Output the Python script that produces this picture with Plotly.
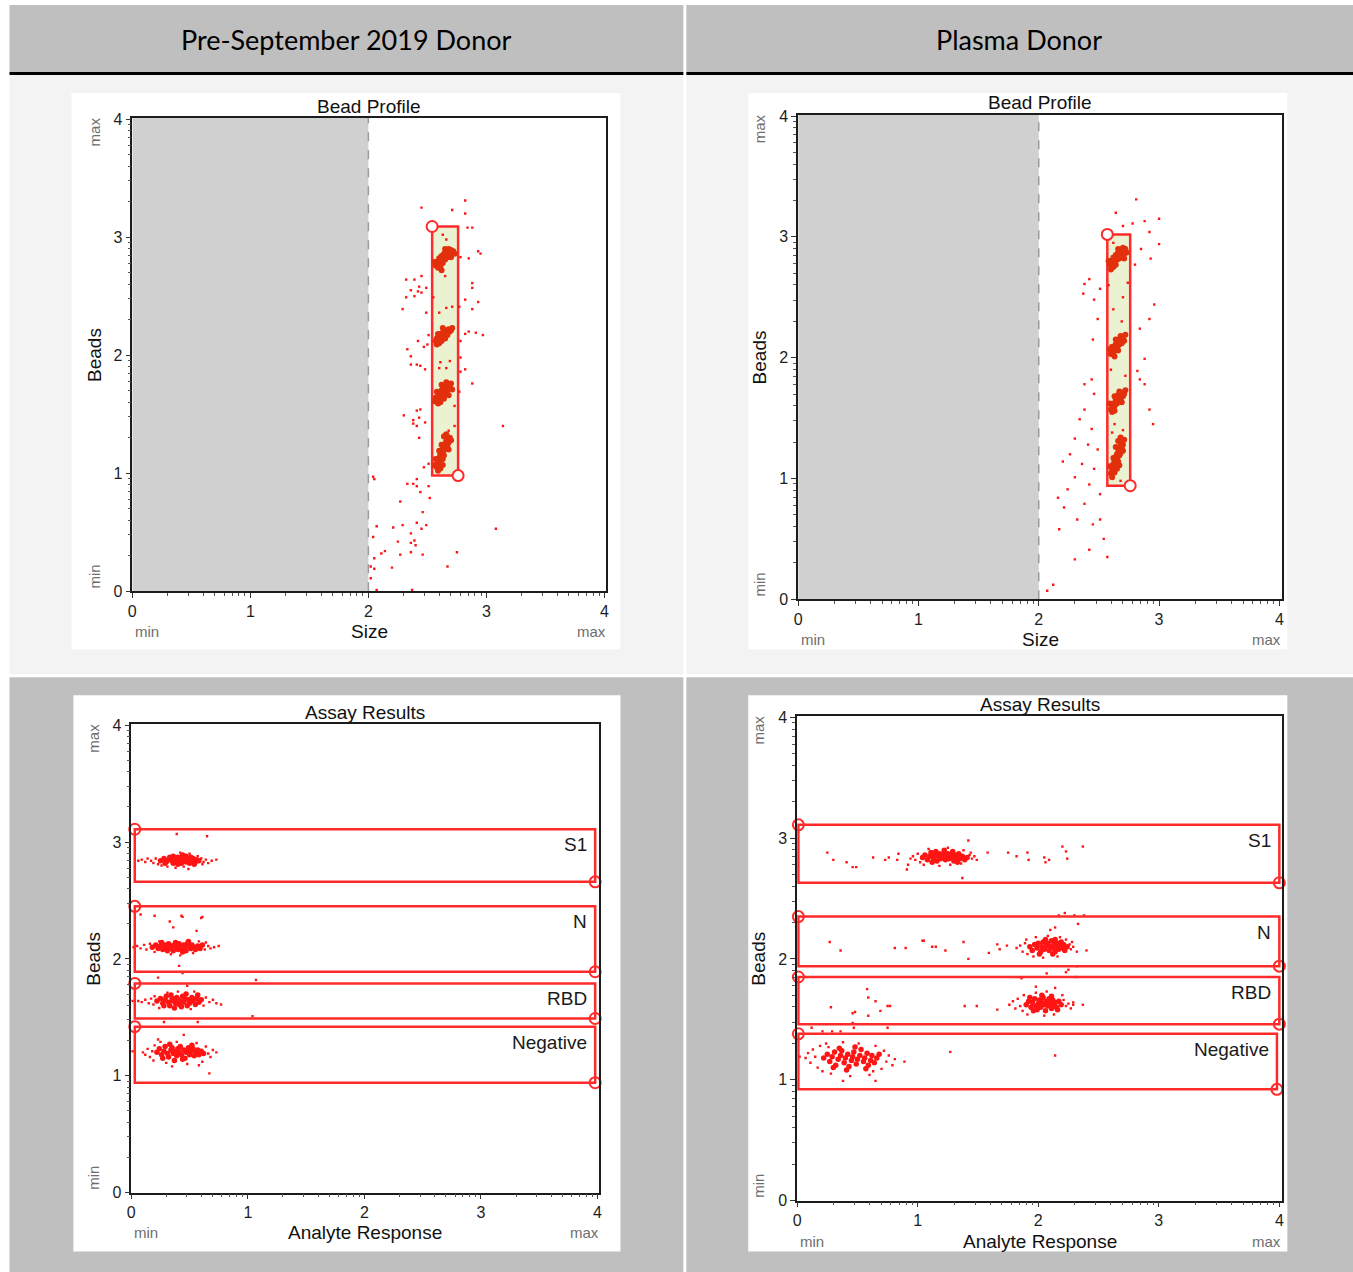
import math
import plotly.graph_objects as go

W, H = 1353, 1272
# window pixel -> figure pixel: the page shows the figure with a small inset and scale
INSET_X, SCALE_X = 2.5, 0.9965
INSET_Y, SCALE_Y = 8.0, 0.987


def px(x):
    """window pixel column -> paper x"""
    return ((x - INSET_X) / SCALE_X) / W


def py(y):
    """window pixel row -> paper y"""
    return 1 - ((y - INSET_Y) / SCALE_Y) / H


# ---------------------------------------------------------------- data
decade_ticks = [0, 1, 2, 3, 4]
decade_labels = ["0", "1", "2", "3", "4"]
column_titles = ["Pre-September 2019 Donor", "Plasma Donor"]
gate_names = ["S1", "N", "RBD", "Negative"]

# Bead Profile, pre-September 2019 donor: (size, beads)
pre_bead_clusters = [
    (2.57, 2.76), (2.58, 2.79), (2.59, 2.77), (2.60, 2.80), (2.60, 2.82), (2.61, 2.78), (2.62, 2.81),
    (2.62, 2.84), (2.63, 2.80), (2.63, 2.83), (2.64, 2.82), (2.64, 2.86), (2.65, 2.84), (2.65, 2.81),
    (2.66, 2.85), (2.66, 2.88), (2.67, 2.83), (2.67, 2.86), (2.68, 2.87), (2.69, 2.85), (2.70, 2.89),
    (2.71, 2.87), (2.72, 2.88), (2.59, 2.74), (2.61, 2.75), (2.63, 2.78), (2.68, 2.90), (2.73, 2.86),
    (2.56, 2.79), (2.65, 2.90), (2.62, 2.72), (2.70, 2.83),
    (2.57, 2.12), (2.58, 2.14), (2.59, 2.15), (2.60, 2.13), (2.61, 2.16), (2.61, 2.18), (2.62, 2.15),
    (2.63, 2.17), (2.63, 2.19), (2.64, 2.16), (2.64, 2.20), (2.65, 2.18), (2.66, 2.19), (2.66, 2.21),
    (2.67, 2.20), (2.68, 2.22), (2.69, 2.20), (2.70, 2.21), (2.60, 2.10), (2.62, 2.12), (2.65, 2.14),
    (2.67, 2.17), (2.59, 2.18), (2.71, 2.23), (2.63, 2.23), (2.58, 2.09),
    (2.56, 1.61), (2.57, 1.64), (2.58, 1.62), (2.59, 1.66), (2.60, 1.63), (2.60, 1.68), (2.61, 1.65),
    (2.62, 1.67), (2.62, 1.70), (2.63, 1.66), (2.63, 1.72), (2.64, 1.69), (2.65, 1.71), (2.65, 1.67),
    (2.66, 1.73), (2.67, 1.70), (2.67, 1.75), (2.68, 1.72), (2.69, 1.74), (2.70, 1.76), (2.59, 1.59),
    (2.61, 1.60), (2.64, 1.63), (2.66, 1.77), (2.71, 1.71), (2.58, 1.69), (2.68, 1.66), (2.62, 1.75),
    (2.58, 1.05), (2.59, 1.08), (2.60, 1.10), (2.60, 1.13), (2.61, 1.11), (2.61, 1.16), (2.62, 1.14),
    (2.62, 1.19), (2.63, 1.17), (2.63, 1.21), (2.64, 1.15), (2.64, 1.23), (2.65, 1.20), (2.65, 1.25),
    (2.66, 1.22), (2.66, 1.27), (2.67, 1.24), (2.67, 1.29), (2.68, 1.26), (2.69, 1.30), (2.59, 1.02),
    (2.61, 1.04), (2.63, 1.07), (2.62, 1.24), (2.64, 1.31), (2.66, 1.33), (2.70, 1.28), (2.57, 1.12),
    (2.60, 1.19), (2.68, 1.20), (2.56, 1.07), (2.63, 1.12),
]
pre_bead_events = [
    (2.82, 3.31), (2.45, 3.25), (2.71, 3.23), (2.82, 3.20), (2.84, 3.08), (2.88, 3.08), (2.93, 2.88),
    (2.95, 2.86), (2.85, 2.82), (2.78, 2.83), (2.32, 2.64), (2.39, 2.64), (2.45, 2.67), (2.36, 2.55),
    (2.43, 2.58), (2.49, 2.57), (2.42, 2.54), (2.45, 2.53), (2.39, 2.50), (2.32, 2.49), (2.29, 2.39),
    (2.49, 2.36), (2.88, 2.61), (2.88, 2.57), (2.82, 2.47), (2.93, 2.45), (2.88, 2.39), (2.77, 2.41),
    (2.85, 2.20), (2.91, 2.19), (2.97, 2.17), (2.82, 2.18), (2.78, 2.12), (2.51, 2.17), (2.50, 2.09),
    (2.47, 2.07), (2.42, 2.12), (2.33, 2.05), (2.36, 1.99), (2.41, 1.92), (2.36, 1.92), (2.44, 1.91),
    (2.48, 1.88), (2.78, 1.98), (2.78, 1.86), (2.82, 1.88), (2.88, 1.76), (2.77, 1.69), (2.44, 1.54),
    (2.41, 1.53), (2.30, 1.49), (2.43, 1.47), (2.48, 1.43), (2.38, 1.45), (2.38, 1.42), (2.41, 1.40),
    (2.43, 1.30), (3.14, 1.40), (2.47, 1.05), (2.51, 1.08), (2.04, 0.97), (2.05, 0.95), (2.41, 0.95),
    (2.33, 0.91), (2.38, 0.91), (2.41, 0.89), (2.51, 0.89),
    (2.63, 3.02), (2.66, 2.98), (2.65, 2.67), (2.60, 2.36), (2.66, 2.40), (2.71, 2.41), (2.55, 2.49),
    (2.61, 1.94), (2.69, 1.95), (2.66, 1.89), (2.60, 1.89), (2.68, 1.36), (2.64, 1.33), (2.73, 1.40),
    (2.73, 1.57),
    (2.44, 0.84), (2.52, 0.79), (2.27, 0.76), (2.46, 0.67), (2.07, 0.55), (2.21, 0.54), (2.29, 0.56),
    (2.41, 0.58), (2.49, 0.56), (2.45, 0.53), (2.36, 0.49), (2.04, 0.46), (2.25, 0.42), (2.39, 0.43),
    (2.40, 0.39), (2.36, 0.41), (3.08, 0.53), (2.14, 0.34), (2.11, 0.32), (2.36, 0.33), (2.27, 0.31),
    (2.46, 0.31), (2.05, 0.28), (2.75, 0.33), (2.20, 0.20), (2.67, 0.21), (2.02, 0.21), (2.05, 0.19),
    (2.02, 0.11), (2.07, 0.01), (2.37, 0.01),
]
pre_bead_gate = {"x": [2.54, 2.76], "y": [0.98, 3.09]}

# Bead Profile, plasma donor
plasma_bead_clusters = [
    (2.59, 2.77), (2.60, 2.80), (2.61, 2.78), (2.62, 2.81), (2.62, 2.83), (2.63, 2.79), (2.64, 2.82),
    (2.64, 2.85), (2.65, 2.81), (2.65, 2.84), (2.66, 2.83), (2.66, 2.87), (2.67, 2.85), (2.67, 2.82),
    (2.68, 2.86), (2.68, 2.89), (2.69, 2.84), (2.69, 2.87), (2.70, 2.88), (2.71, 2.86), (2.72, 2.90),
    (2.62, 2.75), (2.64, 2.77), (2.70, 2.91), (2.73, 2.87), (2.60, 2.73), (2.66, 2.90), (2.58, 2.80),
    (2.71, 2.82),
    (2.60, 2.03), (2.61, 2.05), (2.62, 2.04), (2.62, 2.07), (2.63, 2.06), (2.64, 2.09), (2.64, 2.11),
    (2.65, 2.08), (2.65, 2.12), (2.66, 2.10), (2.66, 2.14), (2.67, 2.11), (2.67, 2.15), (2.68, 2.13),
    (2.69, 2.16), (2.69, 2.12), (2.70, 2.17), (2.63, 2.01), (2.61, 2.09), (2.71, 2.14), (2.68, 2.18),
    (2.66, 2.06), (2.59, 2.07), (2.72, 2.19), (2.64, 2.15),
    (2.60, 1.57), (2.61, 1.60), (2.62, 1.58), (2.62, 1.62), (2.63, 1.60), (2.64, 1.63), (2.64, 1.66),
    (2.65, 1.62), (2.65, 1.67), (2.66, 1.64), (2.66, 1.69), (2.67, 1.66), (2.68, 1.70), (2.68, 1.65),
    (2.69, 1.71), (2.70, 1.68), (2.61, 1.55), (2.63, 1.56), (2.67, 1.72), (2.71, 1.70), (2.59, 1.62),
    (2.69, 1.63), (2.63, 1.68), (2.72, 1.73),
    (2.60, 1.04), (2.61, 1.07), (2.62, 1.09), (2.62, 1.12), (2.63, 1.10), (2.63, 1.15), (2.64, 1.13),
    (2.64, 1.18), (2.65, 1.16), (2.65, 1.20), (2.66, 1.14), (2.66, 1.22), (2.67, 1.19), (2.67, 1.24),
    (2.68, 1.21), (2.68, 1.27), (2.69, 1.25), (2.69, 1.30), (2.70, 1.28), (2.71, 1.32), (2.61, 1.01),
    (2.63, 1.05), (2.65, 1.08), (2.64, 1.26), (2.66, 1.31), (2.68, 1.34), (2.62, 1.17), (2.70, 1.23),
    (2.59, 1.10), (2.67, 1.11),
]
plasma_bead_events = [
    (2.64, 3.20), (2.81, 3.31), (2.70, 3.09), (2.78, 3.11), (2.88, 3.13), (3.00, 3.15), (2.92, 3.04),
    (3.00, 2.94), (2.85, 2.90), (2.93, 2.82), (2.80, 2.77), (2.38, 2.61), (2.42, 2.65), (2.37, 2.53),
    (2.46, 2.48), (2.51, 2.57), (2.96, 2.44), (2.92, 2.32), (2.84, 2.24), (2.49, 2.32), (2.45, 2.15),
    (2.88, 1.99), (2.82, 1.89), (2.84, 1.82), (2.44, 1.82), (2.38, 1.78), (2.46, 1.70), (2.88, 1.78),
    (2.92, 1.57), (2.95, 1.45), (2.38, 1.57), (2.34, 1.49), (2.44, 1.41), (2.30, 1.33), (2.41, 1.28),
    (2.49, 1.24), (2.26, 1.20), (2.20, 1.14), (2.36, 1.12), (2.46, 1.08), (2.30, 1.01), (2.42, 0.95),
    (2.24, 0.91), (2.51, 0.87), (2.38, 0.79), (2.21, 0.76), (2.32, 0.66), (2.45, 0.62), (2.17, 0.58),
    (2.54, 0.50), (2.42, 0.41), (2.30, 0.33), (2.57, 0.35), (2.12, 0.12), (2.07, 0.07), (2.51, 0.66),
    (2.16, 0.84),
    (2.62, 2.95), (2.70, 2.50), (2.62, 2.40), (2.69, 2.30), (2.60, 1.90), (2.72, 1.85), (2.63, 1.45),
    (2.70, 1.40), (2.61, 1.38), (2.68, 0.98), (2.58, 2.60), (2.74, 2.62),
]
plasma_bead_gate = {"x": [2.57, 2.76], "y": [0.94, 3.02]}

# Assay Results, pre-September 2019 donor: (analyte response, beads)
pre_assay_clusters = [
    (0.25, 2.84), (0.28, 2.86), (0.30, 2.83), (0.32, 2.85), (0.33, 2.87), (0.35, 2.84), (0.36, 2.82),
    (0.37, 2.86), (0.38, 2.85), (0.39, 2.83), (0.40, 2.87), (0.41, 2.84), (0.42, 2.86), (0.43, 2.82),
    (0.44, 2.85), (0.45, 2.88), (0.46, 2.84), (0.47, 2.83), (0.48, 2.86), (0.49, 2.85), (0.50, 2.82),
    (0.51, 2.87), (0.52, 2.84), (0.53, 2.86), (0.55, 2.83), (0.56, 2.85), (0.58, 2.84), (0.34, 2.86),
    (0.29, 2.82), (0.44, 2.89), (0.40, 2.81), (0.47, 2.88), (0.36, 2.88), (0.54, 2.81),
    (0.18, 2.10), (0.21, 2.12), (0.23, 2.09), (0.25, 2.11), (0.27, 2.08), (0.29, 2.12), (0.30, 2.10),
    (0.32, 2.13), (0.33, 2.09), (0.35, 2.11), (0.36, 2.07), (0.37, 2.12), (0.39, 2.10), (0.40, 2.08),
    (0.41, 2.13), (0.42, 2.11), (0.43, 2.09), (0.45, 2.12), (0.46, 2.10), (0.47, 2.07), (0.48, 2.13),
    (0.50, 2.11), (0.51, 2.09), (0.52, 2.12), (0.54, 2.10), (0.55, 2.08), (0.57, 2.11), (0.59, 2.09),
    (0.61, 2.12), (0.38, 2.14), (0.44, 2.06), (0.31, 2.07), (0.49, 2.15), (0.26, 2.14),
    (0.22, 1.64), (0.25, 1.66), (0.27, 1.62), (0.29, 1.65), (0.30, 1.68), (0.32, 1.63), (0.33, 1.60),
    (0.35, 1.66), (0.36, 1.64), (0.38, 1.62), (0.39, 1.67), (0.40, 1.65), (0.41, 1.61), (0.42, 1.64),
    (0.44, 1.68), (0.45, 1.63), (0.46, 1.66), (0.48, 1.60), (0.49, 1.65), (0.50, 1.62), (0.52, 1.67),
    (0.53, 1.64), (0.55, 1.61), (0.56, 1.66), (0.58, 1.63), (0.60, 1.65), (0.34, 1.69), (0.47, 1.70),
    (0.43, 1.59), (0.28, 1.60), (0.57, 1.69), (0.37, 1.58),
    (0.22, 1.20), (0.24, 1.23), (0.26, 1.18), (0.28, 1.21), (0.29, 1.25), (0.31, 1.19), (0.32, 1.16),
    (0.34, 1.22), (0.35, 1.24), (0.36, 1.19), (0.38, 1.21), (0.39, 1.17), (0.40, 1.23), (0.41, 1.20),
    (0.42, 1.25), (0.43, 1.18), (0.45, 1.22), (0.46, 1.15), (0.47, 1.20), (0.49, 1.24), (0.50, 1.18),
    (0.51, 1.21), (0.53, 1.23), (0.54, 1.17), (0.55, 1.20), (0.57, 1.22), (0.58, 1.18), (0.60, 1.21),
    (0.62, 1.19), (0.33, 1.27), (0.44, 1.14), (0.52, 1.26), (0.27, 1.15), (0.37, 1.13),
]
pre_assay_events = [
    (0.06, 2.84), (0.09, 2.85), (0.12, 2.83), (0.14, 2.86), (0.17, 2.84), (0.19, 2.82), (0.21, 2.86),
    (0.23, 2.81), (0.26, 2.80), (0.31, 2.79), (0.38, 2.78), (0.45, 2.79), (0.49, 2.77), (0.57, 2.88),
    (0.60, 2.86), (0.62, 2.83), (0.64, 2.85), (0.66, 2.82), (0.69, 2.84), (0.73, 2.85), (0.61, 2.81),
    (0.42, 2.91), (0.50, 2.90), (0.39, 3.07), (0.65, 3.05),
    (0.02, 2.10), (0.05, 2.11), (0.08, 2.09), (0.11, 2.12), (0.13, 2.08), (0.16, 2.13), (0.20, 2.06),
    (0.24, 2.15), (0.34, 2.04), (0.42, 2.03), (0.53, 2.05), (0.58, 2.15), (0.63, 2.08), (0.66, 2.11),
    (0.68, 2.09), (0.71, 2.10), (0.75, 2.11), (0.64, 2.14), (0.08, 2.38), (0.20, 2.37), (0.43, 2.37),
    (0.44, 2.36), (0.33, 2.32), (0.60, 2.35), (0.61, 2.36), (0.36, 2.27), (0.56, 2.24), (0.41, 1.94),
    (0.06, 1.64), (0.09, 1.63), (0.12, 1.65), (0.15, 1.62), (0.17, 1.66), (0.19, 1.61), (0.20, 1.68),
    (0.24, 1.58), (0.31, 1.71), (0.40, 1.72), (0.51, 1.57), (0.62, 1.60), (0.64, 1.67), (0.67, 1.63),
    (0.70, 1.65), (0.73, 1.62), (0.77, 1.61), (0.54, 1.72), (0.44, 1.88), (0.23, 1.84), (1.07, 1.82),
    (0.48, 1.77), (1.04, 1.51), (0.28, 1.46), (0.57, 1.46), (0.01, 1.64),
    (0.10, 1.20), (0.12, 1.18), (0.14, 1.23), (0.16, 1.16), (0.18, 1.21), (0.20, 1.26), (0.19, 1.13),
    (0.25, 1.29), (0.30, 1.11), (0.39, 1.29), (0.48, 1.10), (0.56, 1.28), (0.61, 1.12), (0.64, 1.25),
    (0.66, 1.19), (0.68, 1.16), (0.70, 1.22), (0.73, 1.20), (0.35, 1.08), (0.58, 1.09), (0.45, 1.35),
    (0.67, 1.02), (0.01, 1.21), (0.23, 1.31),
]
pre_assay_gate_x = [0.03, 3.98]
pre_assay_gate_y = [(2.66, 3.11), (1.89, 2.45), (1.49, 1.79), (0.94, 1.42)]

# Assay Results, plasma donor
plasma_assay_clusters = [
    (1.04, 2.84), (1.06, 2.86), (1.08, 2.82), (1.10, 2.85), (1.11, 2.88), (1.13, 2.83), (1.14, 2.86),
    (1.16, 2.81), (1.17, 2.85), (1.18, 2.87), (1.19, 2.83), (1.20, 2.86), (1.21, 2.84), (1.22, 2.88),
    (1.23, 2.82), (1.24, 2.85), (1.25, 2.87), (1.26, 2.83), (1.27, 2.86), (1.28, 2.84), (1.30, 2.81),
    (1.31, 2.86), (1.32, 2.84), (1.34, 2.87), (1.35, 2.83), (1.37, 2.85), (1.39, 2.82), (1.41, 2.84),
    (1.12, 2.80), (1.22, 2.90), (1.29, 2.89), (1.15, 2.89), (1.33, 2.80),
    (1.93, 2.10), (1.95, 2.07), (1.97, 2.12), (1.99, 2.09), (2.00, 2.13), (2.02, 2.06), (2.03, 2.10),
    (2.04, 2.14), (2.05, 2.08), (2.07, 2.11), (2.08, 2.13), (2.09, 2.07), (2.10, 2.10), (2.11, 2.15),
    (2.12, 2.09), (2.13, 2.12), (2.14, 2.06), (2.15, 2.10), (2.16, 2.13), (2.17, 2.08), (2.18, 2.11),
    (2.19, 2.14), (2.20, 2.09), (2.21, 2.12), (2.22, 2.07), (2.24, 2.10), (2.06, 2.16), (2.14, 2.16),
    (2.01, 2.04), (2.12, 2.04),
    (1.90, 1.62), (1.92, 1.65), (1.94, 1.60), (1.95, 1.64), (1.97, 1.67), (1.98, 1.61), (1.99, 1.58),
    (2.00, 1.63), (2.01, 1.66), (2.02, 1.60), (2.03, 1.64), (2.04, 1.68), (2.05, 1.62), (2.06, 1.57),
    (2.07, 1.65), (2.08, 1.61), (2.09, 1.67), (2.10, 1.63), (2.11, 1.59), (2.12, 1.66), (2.13, 1.62),
    (2.14, 1.64), (2.15, 1.60), (2.17, 1.65), (2.19, 1.62), (1.96, 1.57), (2.03, 1.70), (2.11, 1.69),
    (1.93, 1.68), (2.16, 1.58),
    (0.22, 1.18), (0.25, 1.21), (0.27, 1.15), (0.29, 1.19), (0.31, 1.23), (0.32, 1.12), (0.34, 1.17),
    (0.36, 1.20), (0.37, 1.24), (0.39, 1.14), (0.40, 1.18), (0.42, 1.21), (0.43, 1.11), (0.45, 1.16),
    (0.46, 1.19), (0.47, 1.23), (0.49, 1.13), (0.50, 1.17), (0.52, 1.20), (0.53, 1.25), (0.55, 1.15),
    (0.56, 1.18), (0.58, 1.22), (0.59, 1.12), (0.61, 1.16), (0.62, 1.20), (0.64, 1.14), (0.66, 1.18),
    (0.68, 1.21), (0.35, 1.26), (0.48, 1.27), (0.57, 1.09), (0.41, 1.08), (0.30, 1.10),
]
plasma_assay_events = [
    (0.96, 2.85), (0.98, 2.82), (1.00, 2.87), (1.02, 2.80), (0.94, 2.83), (0.92, 2.78), (1.05, 2.78),
    (1.18, 2.77), (1.27, 2.78), (1.36, 2.79), (1.43, 2.86), (1.45, 2.83), (1.47, 2.85), (1.49, 2.82),
    (1.44, 2.88), (1.09, 2.91), (1.25, 2.92), (1.38, 2.90),
    (0.25, 2.88), (0.30, 2.82), (0.41, 2.80), (0.46, 2.76), (0.49, 2.76), (0.63, 2.84), (0.73, 2.82),
    (0.76, 2.84), (0.83, 2.82), (0.84, 2.87), (0.91, 2.74), (1.42, 2.98), (1.37, 2.67), (1.58, 2.88),
    (1.75, 2.88), (1.82, 2.85), (1.91, 2.88), (1.92, 2.82), (2.05, 2.84), (2.06, 2.80), (2.09, 2.82),
    (2.20, 2.93), (2.23, 2.89), (2.24, 2.83), (2.37, 2.93),
    (1.82, 2.09), (1.85, 2.11), (1.87, 2.06), (1.89, 2.13), (1.91, 2.04), (1.90, 2.16), (1.96, 2.02),
    (2.04, 2.01), (2.16, 2.02), (2.23, 2.16), (2.26, 2.12), (2.27, 2.08), (2.29, 2.10), (2.32, 2.06),
    (2.28, 2.14), (1.98, 2.18), (2.08, 2.19), (2.18, 2.18),
    (0.27, 2.14), (0.36, 2.07), (0.81, 2.09), (0.90, 2.09), (1.04, 2.15), (1.05, 2.15), (1.12, 2.10),
    (1.15, 2.10), (1.23, 2.07), (1.38, 2.14), (1.42, 2.00), (1.59, 2.05), (1.66, 2.12), (1.74, 2.11),
    (1.68, 2.08), (2.40, 2.07), (2.10, 2.24), (2.14, 2.26), (2.17, 2.36), (2.22, 2.38), (2.30, 2.36),
    (2.33, 2.29), (2.38, 2.36), (2.23, 1.89), (2.25, 1.91), (2.31, 1.85), (2.07, 1.88), (1.86, 1.84),
    (2.32, 1.94),
    (1.76, 1.62), (1.79, 1.65), (1.81, 1.59), (1.83, 1.67), (1.85, 1.61), (1.87, 1.57), (1.88, 1.70),
    (1.91, 1.54), (1.98, 1.72), (2.05, 1.53), (2.07, 1.73), (2.13, 1.54), (2.21, 1.66), (2.23, 1.61),
    (2.25, 1.63), (2.27, 1.59), (2.29, 1.64), (2.20, 1.70),
    (0.28, 1.60), (0.58, 1.75), (0.59, 1.68), (0.65, 1.65), (0.69, 1.57), (0.75, 1.61), (0.77, 1.61),
    (0.48, 1.56), (0.46, 1.55), (0.59, 1.53), (1.39, 1.61), (1.49, 1.61), (1.66, 1.58), (1.98, 1.77),
    (2.14, 1.76), (2.37, 1.62), (2.29, 1.62), (0.46, 1.47), (0.47, 1.43), (0.75, 1.43), (0.29, 1.40),
    (0.21, 1.40), (0.36, 1.40), (0.12, 1.43),
    (0.07, 1.18), (0.09, 1.22), (0.11, 1.14), (0.13, 1.25), (0.15, 1.19), (0.17, 1.10), (0.19, 1.28),
    (0.21, 1.07), (0.24, 1.30), (0.28, 1.05), (0.38, 1.31), (0.44, 1.03), (0.51, 1.30), (0.60, 1.04),
    (0.65, 1.28), (0.70, 1.09), (0.72, 1.24), (0.74, 1.15), (0.76, 1.20), (0.79, 1.12), (0.81, 1.17),
    (0.26, 1.27), (0.63, 1.07), (0.89, 1.15), (1.27, 1.23), (2.14, 1.20), (0.02, 1.19), (0.38, 0.99),
    (0.65, 0.99),
]
plasma_assay_gate_x = [0.01, 4.0]
plasma_assay_gate_y = [(2.63, 3.11), (1.94, 2.35), (1.46, 1.85), (0.92, 1.38)]
plasma_assay_gate_x1 = [4.0, 4.0, 4.0, 3.98]

# minor ticks follow a log layout inside every decade
minor_vals = [d + math.log10(k) for d in range(4) for k in range(2, 10)]

# ---------------------------------------------------------------- styling
ARIAL = "Liberation Sans, Arial, sans-serif"
RED = "#ff1414"
GATE_RED = "#ff2b2b"
CORE_BEAD = "#e3300c"

# window-pixel frames of the four plot areas: (left, right, top, bottom, px per unit x, px per unit y)
frames = {
    "tl": (131, 606, 119, 592, 118.25, 118.0),
    "tr": (798, 1283, 116, 600, 120.5, 120.75),
    "bl": (130, 599, 725, 1193, 116.75, 116.75),
    "br": (797, 1283, 717, 1201, 120.75, 120.75),
}
axis_ids = {"tl": "", "tr": "2", "bl": "3", "br": "4"}

fig = go.Figure()
layout = dict(
    width=W, height=H, margin=dict(l=0, r=0, t=0, b=0),
    paper_bgcolor="white", plot_bgcolor="white", showlegend=False,
    shapes=[], annotations=[],
)

for key, (l, r, t, b, sx, sy) in frames.items():
    aid = axis_ids[key]
    common = dict(
        showgrid=False, zeroline=False, showline=True, mirror=True,
        linecolor="#1c1c1c", linewidth=1.5, ticks="outside", ticklen=5, tickwidth=1,
        tickcolor="#333", tickvals=decade_ticks, ticktext=decade_labels,
        tickfont=dict(family=ARIAL, size=16, color="#1e1e1e"),
        minor=dict(tickmode="array", tickvals=minor_vals, ticks="outside", ticklen=3,
                   tickwidth=1, tickcolor="#555"),
        fixedrange=True,
    )
    layout["xaxis" + aid] = dict(common, domain=[px(l), px(r)], range=[0, (r - l) / sx],
                                 anchor="y" + aid)
    layout["yaxis" + aid] = dict(common, domain=[py(b), py(t)], range=[0, (b - t) / sy],
                                 anchor="x" + aid)

# ---------------------------------------------------------------- backgrounds
bg = layout["shapes"]


def rect(x0, y0, x1, y1, color):
    bg.append(dict(type="rect", xref="paper", yref="paper", x0=px(x0), x1=px(x1),
                   y0=py(y1), y1=py(y0), fillcolor=color, line=dict(width=0), layer="below"))


for c0, c1 in [(8, 683), (686, 1360)]:
    rect(c0, 6, c1, 73, "#bfbfbf")
    rect(c0, 73, c1, 76, "#000000")
    rect(c0, 76, c1, 675, "#f3f3f3")
    rect(c0, 678, c1, 1290, "#bfbfbf")
# white cards holding each chart
rect(70, 94, 620, 650, "white")
rect(748, 94, 1288, 650, "white")
rect(72, 696, 620, 1252, "white")
rect(748, 696, 1288, 1252, "white")

ann = layout["annotations"]


def text(x, y, s, size, color="#111", angle=0, family=ARIAL, xanchor="center"):
    ann.append(dict(xref="paper", yref="paper", x=px(x), y=py(y), text=s, showarrow=False,
                    font=dict(family=family, size=size, color=color), textangle=angle,
                    xanchor=xanchor, yanchor="middle"))


HEAD_FONT = "Lato, Noto Sans, sans-serif"
text(346, 40, column_titles[0], 27, "#000", family=HEAD_FONT)
text(1019, 40, column_titles[1], 27, "#000", family=HEAD_FONT)

# chart titles, axis titles and min/max hints
panel_text = {
    "tl": ("Bead Profile", 107, "Size", 632, 93),
    "tr": ("Bead Profile", 103, "Size", 640, 759),
    "bl": ("Assay Results", 713, "Analyte Response", 1233, 92),
    "br": ("Assay Results", 705, "Analyte Response", 1242, 758),
}
for key, (title, ty, xtitle, xty, yx) in panel_text.items():
    l, r, t, b, sx, sy = frames[key]
    cx = (l + r) / 2
    text(cx, ty, title, 19, "#111")
    text(cx, xty, xtitle, 19, "#111")
    text(yx, (t + b) / 2, "Beads", 19, "#111", angle=-90)
    text(l + 15, xty, "min", 15, "#6e6e6e")
    text(l + 4 * sx - 13, xty, "max", 15, "#6e6e6e")
    text(yx, t + 14, "max", 15, "#6e6e6e", angle=-90)
    text(yx, b - 15, "min", 15, "#6e6e6e", angle=-90)

# ---------------------------------------------------------------- bead profile panels
for key, clusters, events, gate in [
    ("tl", pre_bead_clusters, pre_bead_events, pre_bead_gate),
    ("tr", plasma_bead_clusters, plasma_bead_events, plasma_bead_gate),
]:
    aid = axis_ids[key]
    xr, yr = "x" + aid, "y" + aid
    top = layout["yaxis" + aid]["range"][1]
    bg.append(dict(type="rect", xref=xr, yref=yr, x0=0, x1=2, y0=0, y1=top,
                   fillcolor="#d0d0d0", line=dict(width=0), layer="below"))
    bg.append(dict(type="line", xref=xr, yref=yr, x0=2, x1=2, y0=0, y1=top,
                   line=dict(color="#9b9b9b", width=1.5, dash="dash"), layer="below"))
    bg.append(dict(type="rect", xref=xr, yref=yr, x0=gate["x"][0], x1=gate["x"][1],
                   y0=gate["y"][0], y1=gate["y"][1], fillcolor="#eaf2d2",
                   line=dict(color=GATE_RED, width=2.5), layer="below"))
    fig.add_trace(go.Scatter(
        x=[p[0] for p in events], y=[p[1] for p in events], mode="markers", xaxis=xr, yaxis=yr,
        marker=dict(symbol="square", size=2.4, color=RED, line=dict(width=0)), hoverinfo="skip"))
    fig.add_trace(go.Scatter(
        x=[p[0] for p in clusters], y=[p[1] for p in clusters], mode="markers", xaxis=xr, yaxis=yr,
        marker=dict(symbol="circle", size=6, color=CORE_BEAD, line=dict(width=0)), hoverinfo="skip"))
    fig.add_trace(go.Scatter(
        x=[gate["x"][0], gate["x"][1]], y=[gate["y"][1], gate["y"][0]], mode="markers",
        xaxis=xr, yaxis=yr, cliponaxis=False,
        marker=dict(symbol="circle", size=11, color="white", line=dict(color=GATE_RED, width=2)),
        hoverinfo="skip"))

# ---------------------------------------------------------------- assay result panels
for key, clusters, events, gx, gys, gx1s in [
    ("bl", pre_assay_clusters, pre_assay_events, pre_assay_gate_x, pre_assay_gate_y,
     [pre_assay_gate_x[1]] * 4),
    ("br", plasma_assay_clusters, plasma_assay_events, plasma_assay_gate_x, plasma_assay_gate_y,
     plasma_assay_gate_x1),
]:
    aid = axis_ids[key]
    xr, yr = "x" + aid, "y" + aid
    fig.add_trace(go.Scatter(
        x=[p[0] for p in events], y=[p[1] for p in events], mode="markers", xaxis=xr, yaxis=yr,
        marker=dict(symbol="square", size=2.4, color=RED, line=dict(width=0)), hoverinfo="skip"))
    fig.add_trace(go.Scatter(
        x=[p[0] for p in clusters], y=[p[1] for p in clusters], mode="markers", xaxis=xr, yaxis=yr,
        marker=dict(symbol="circle", size=5.5, color=RED, line=dict(width=0)), hoverinfo="skip"))
    hx, hy = [], []
    for name, (y0, y1), x1 in zip(gate_names, gys, gx1s):
        bg.append(dict(type="rect", xref=xr, yref=yr, x0=gx[0], x1=x1, y0=y0, y1=y1,
                       fillcolor="rgba(0,0,0,0)", line=dict(color=GATE_RED, width=2.5),
                       layer="above"))
        ann.append(dict(xref=xr, yref=yr, x=x1, y=y1, text=name, showarrow=False,
                        xanchor="right", yanchor="top", xshift=-6, yshift=-3,
                        font=dict(family=ARIAL, size=19, color="#1a1a1a")))
        hx += [gx[0], x1]
        hy += [y1, y0]
    fig.add_trace(go.Scatter(
        x=hx, y=hy, mode="markers", xaxis=xr, yaxis=yr, cliponaxis=False,
        marker=dict(symbol="circle", size=11, color="white", line=dict(color=GATE_RED, width=2)),
        hoverinfo="skip"))

fig.update_layout(**layout)
fig.write_html("out.html")
